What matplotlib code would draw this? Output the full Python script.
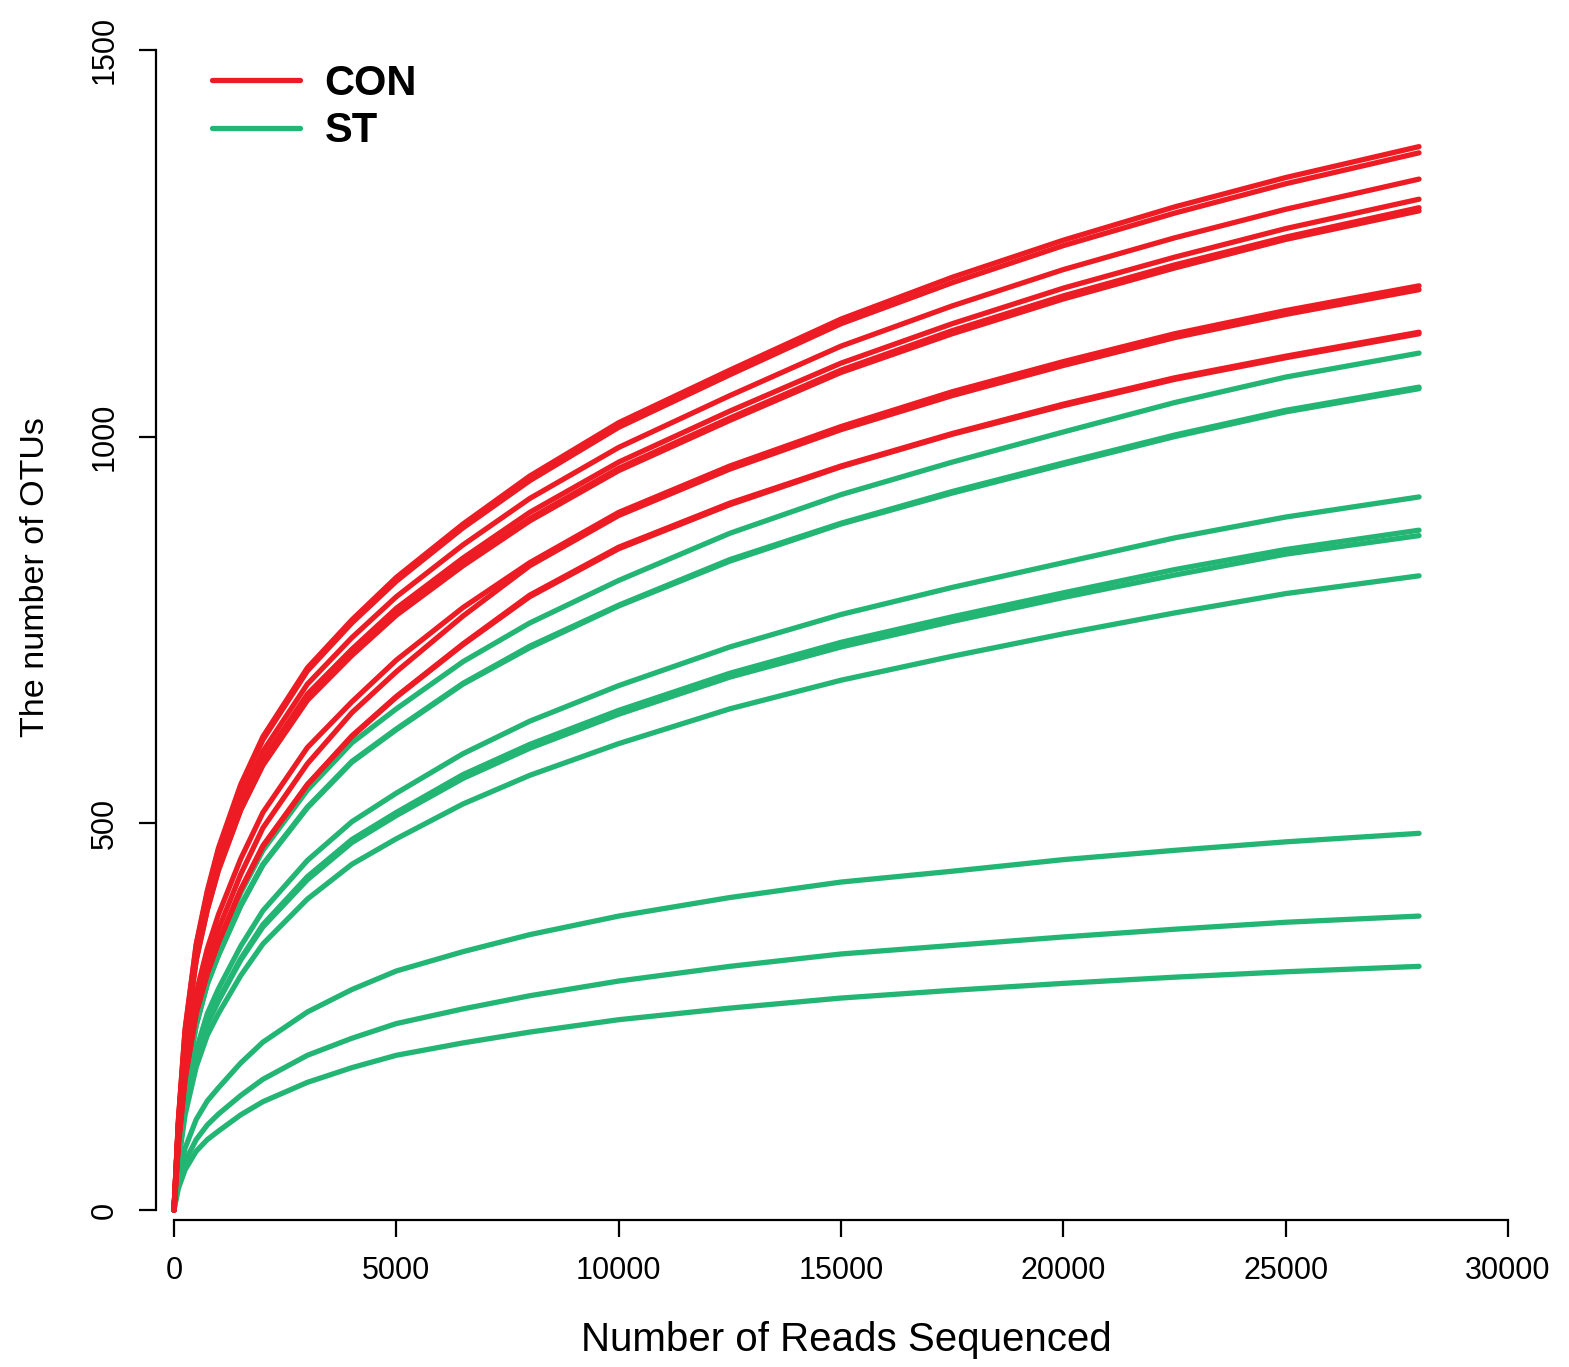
import numpy as np
import matplotlib.pyplot as plt

plt.rcParams['font.family'] = ['Liberation Sans', 'DejaVu Sans']

reads = [0, 100, 250, 500, 750, 1000, 1500, 2000, 3000, 4000, 5000, 6500, 8000,
         10000, 12500, 15000, 17500, 20000, 22500, 25000, 28000]

# CON samples (OTUs)
con_1 = [0, 117, 234, 344, 413, 468, 550, 612, 701, 763, 818, 887, 949, 1018, 1086, 1152, 1206, 1254, 1297, 1335, 1375]
con_2 = [0, 116, 232, 342, 410, 465, 547, 608, 697, 759, 813, 882, 943, 1012, 1080, 1146, 1199, 1247, 1289, 1327, 1367]
con_3 = [0, 113, 227, 333, 400, 453, 533, 593, 680, 740, 793, 860, 920, 986, 1053, 1117, 1169, 1216, 1257, 1294, 1333]
con_4 = [0, 111, 222, 327, 392, 444, 523, 582, 667, 725, 778, 843, 902, 967, 1033, 1095, 1146, 1192, 1232, 1269, 1307]
con_5 = [0, 110, 220, 324, 389, 441, 518, 577, 661, 719, 771, 836, 894, 959, 1024, 1086, 1137, 1182, 1222, 1258, 1296]
con_6 = [0, 110, 220, 323, 388, 439, 517, 575, 659, 717, 769, 833, 891, 956, 1021, 1083, 1133, 1178, 1218, 1255, 1292]
con_7 = [0, 96, 191, 281, 338, 382, 454, 514, 598, 657, 711, 779, 837, 902, 962, 1013, 1058, 1097, 1133, 1163, 1195]
con_8 = [0, 89, 179, 268, 321, 363, 434, 494, 577, 643, 696, 768, 833, 898, 958, 1009, 1053, 1092, 1128, 1158, 1190]
con_9 = [0, 85, 170, 255, 306, 346, 414, 471, 550, 613, 664, 732, 795, 857, 914, 962, 1004, 1042, 1076, 1104, 1135]
con_10 = [0, 85, 170, 255, 306, 346, 414, 470, 550, 612, 663, 731, 793, 855, 912, 961, 1003, 1040, 1074, 1102, 1133]

# ST samples (OTUs)
st_1 = [0, 83, 166, 249, 305, 343, 410, 465, 543, 604, 648, 709, 759, 814, 875, 925, 967, 1006, 1044, 1077, 1108]
st_2 = [0, 80, 160, 239, 293, 330, 394, 447, 521, 580, 622, 681, 729, 782, 841, 888, 929, 966, 1002, 1034, 1064]
st_3 = [0, 80, 159, 239, 292, 329, 393, 446, 520, 579, 621, 680, 727, 781, 839, 887, 927, 964, 1000, 1032, 1062]
st_4 = [0, 69, 138, 207, 254, 286, 341, 387, 452, 502, 539, 590, 632, 678, 728, 770, 805, 837, 869, 896, 922]
st_5 = [0, 66, 132, 198, 242, 272, 325, 369, 431, 479, 514, 563, 602, 646, 694, 734, 767, 798, 828, 854, 879]
st_6 = [0, 65, 131, 196, 240, 270, 323, 366, 427, 475, 510, 558, 597, 641, 689, 728, 761, 792, 821, 848, 872]
st_7 = [0, 62, 123, 185, 226, 254, 303, 344, 402, 447, 480, 525, 562, 603, 648, 685, 716, 745, 772, 797, 820]
st_8 = [0, 44, 80, 117, 141, 158, 190, 217, 256, 285, 309, 334, 356, 380, 404, 424, 438, 453, 465, 476, 487]
st_9 = [0, 34, 63, 91, 110, 124, 148, 169, 200, 222, 241, 260, 277, 296, 315, 331, 342, 353, 363, 372, 380]
st_10 = [0, 28, 52, 76, 91, 102, 123, 140, 165, 184, 200, 216, 230, 246, 261, 274, 284, 293, 301, 308, 315]

con = [con_1, con_2, con_3, con_4, con_5, con_6, con_7, con_8, con_9, con_10]
st = [st_1, st_2, st_3, st_4, st_5, st_6, st_7, st_8, st_9, st_10]

rojo = '#ED1C24'
verde = '#23B574'

fig = plt.figure(figsize=(15.69, 13.67), dpi=100)
ax = fig.add_axes([156.2/1569, (1367-1220)/1367, 1374/1569, (1220-34.5)/1367])

for k, y in enumerate(st):
    ax.plot(reads, y, color=verde, lw=3.8, solid_capstyle='round',
            solid_joinstyle='round', label='ST' if k == 0 else None)
for k, y in enumerate(con):
    ax.plot(reads, y, color=rojo, lw=3.8, solid_capstyle='round',
            solid_joinstyle='round', label='CON' if k == 0 else None)

ax.set_xlim(-400, 30500)
ax.set_ylim(-13, 1520)

# Ejes estilo R
for s in ['top', 'right']:
    ax.spines[s].set_visible(False)
ax.spines['left'].set_bounds(0, 1500)
ax.spines['bottom'].set_bounds(0, 30000)
ax.spines['left'].set_linewidth(1.6)
ax.spines['bottom'].set_linewidth(1.6)

ax.set_xticks([0, 5000, 10000, 15000, 20000, 25000, 30000])
ax.set_yticks([0, 500, 1000, 1500])
ax.tick_params(axis='both', length=12, width=1.6, labelsize=22)
ax.tick_params(axis='x', pad=14)
ax.tick_params(axis='y', pad=14)
plt.setp(ax.get_yticklabels(), rotation=90, va='center')

fig.text(846/1569, 1 - 1340/1367, 'Number of Reads Sequenced',
         ha='center', va='center', fontsize=29)
fig.text(36/1569, 1 - 577/1367, 'The number of OTUs', rotation=90,
         ha='center', va='center', fontsize=24.5)

handles, labels = ax.get_legend_handles_labels()
orden = [labels.index('CON'), labels.index('ST')]
ax.legend([handles[i] for i in orden], [labels[i] for i in orden],
          loc='upper left', bbox_to_anchor=(212/1569, 1 - 64/1367),
          bbox_transform=fig.transFigure, frameon=False, borderpad=0,
          borderaxespad=0, handlelength=2.1, handletextpad=0.6,
          labelspacing=0.18, prop={'weight': 'bold', 'size': 30})

fig.savefig('out.png', dpi=100)
